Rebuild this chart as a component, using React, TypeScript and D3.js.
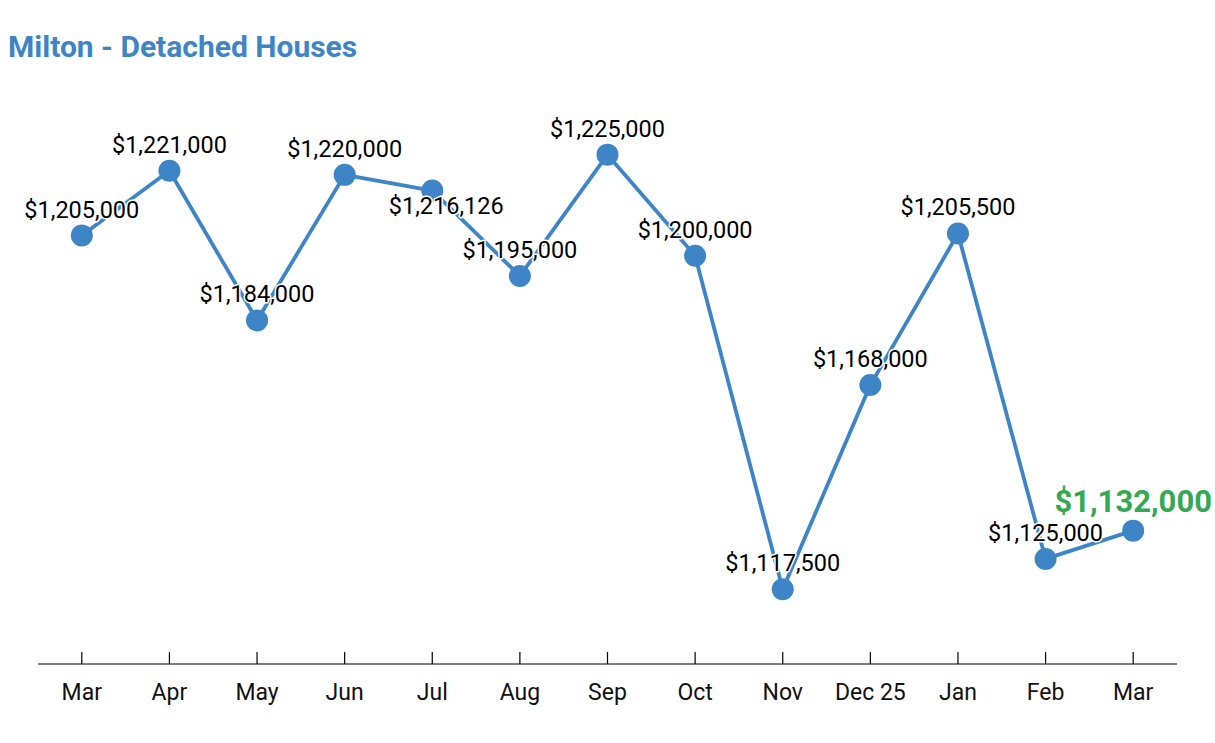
import React from "react";
import * as d3 from "d3";

const months = ["Mar", "Apr", "May", "Jun", "Jul", "Aug", "Sep", "Oct", "Nov", "Dec 25", "Jan", "Feb", "Mar "];
const prices = [1205000, 1221000, 1184000, 1220000, 1216126, 1195000, 1225000, 1200000, 1117500, 1168000, 1205500, 1125000, 1132000];
const title = "Milton - Detached Houses";

const W = 1215;
const H = 743;
const FONT = "Roboto, 'Noto Sans', sans-serif";
const BLUE = "#3d85c6";
const GREEN = "#34a853";

export default function App() {
  const x = d3.scaleBand<string>().domain(months).range([38, 1177]).padding(0);
  const y = d3.scaleLinear().domain([1100000, 1240000]).range([660, 94]);
  const cx = (i: number) => (x(months[i]) as number) + x.bandwidth() / 2;
  const fmt = (v: number) => "$" + d3.format(",")(v);
  const line = d3
    .line<number>()
    .x((_, i) => cx(i))
    .y((d) => y(d));
  const axisY = 664;
  const last = prices.length - 1;

  return (
    <svg
      width={W}
      height={H}
      style={{ position: "absolute", left: 0, top: 0, background: "#fff" }}
      fontFamily={FONT}
    >
      <rect x={0} y={0} width={W} height={H} fill="#fff" />
      <text x={8} y={57} fontSize={30} fontWeight={700} fill={BLUE}>
        {title}
      </text>
      <line x1={38} x2={1177} y1={axisY} y2={axisY} stroke="#000" strokeWidth={1.2} />
      {months.map((m, i) => (
        <g key={"t" + i}>
          <line x1={cx(i)} x2={cx(i)} y1={axisY - 12} y2={axisY} stroke="#000" strokeWidth={1.2} />
          <text x={cx(i)} y={700} textAnchor="middle" fontSize={23} fill="#111">
            {m.trim()}
          </text>
        </g>
      ))}
      <path d={line(prices) || ""} fill="none" stroke={BLUE} strokeWidth={3.8} strokeLinejoin="round" />
      {prices.map((v, i) => (
        <circle key={"c" + i} cx={cx(i)} cy={y(v)} r={11} fill={BLUE} />
      ))}
      {prices.map((v, i) => {
        const isLast = i === last;
        const below = i === 4;
        const tx = cx(i) + (below ? 14 : 0);
        const ty = y(v) + (below ? 23 : isLast ? -19 : -18);
        return (
          <text
            key={"l" + i}
            x={tx}
            y={ty}
            textAnchor="middle"
            fontSize={isLast ? 31 : 23.5}
            fontWeight={isLast ? 700 : 400}
            fill={isLast ? GREEN : "#000"}
            stroke="#fff"
            strokeWidth={3}
            strokeLinejoin="round"
            paintOrder="stroke"
          >
            {fmt(v)}
          </text>
        );
      })}
    </svg>
  );
}
